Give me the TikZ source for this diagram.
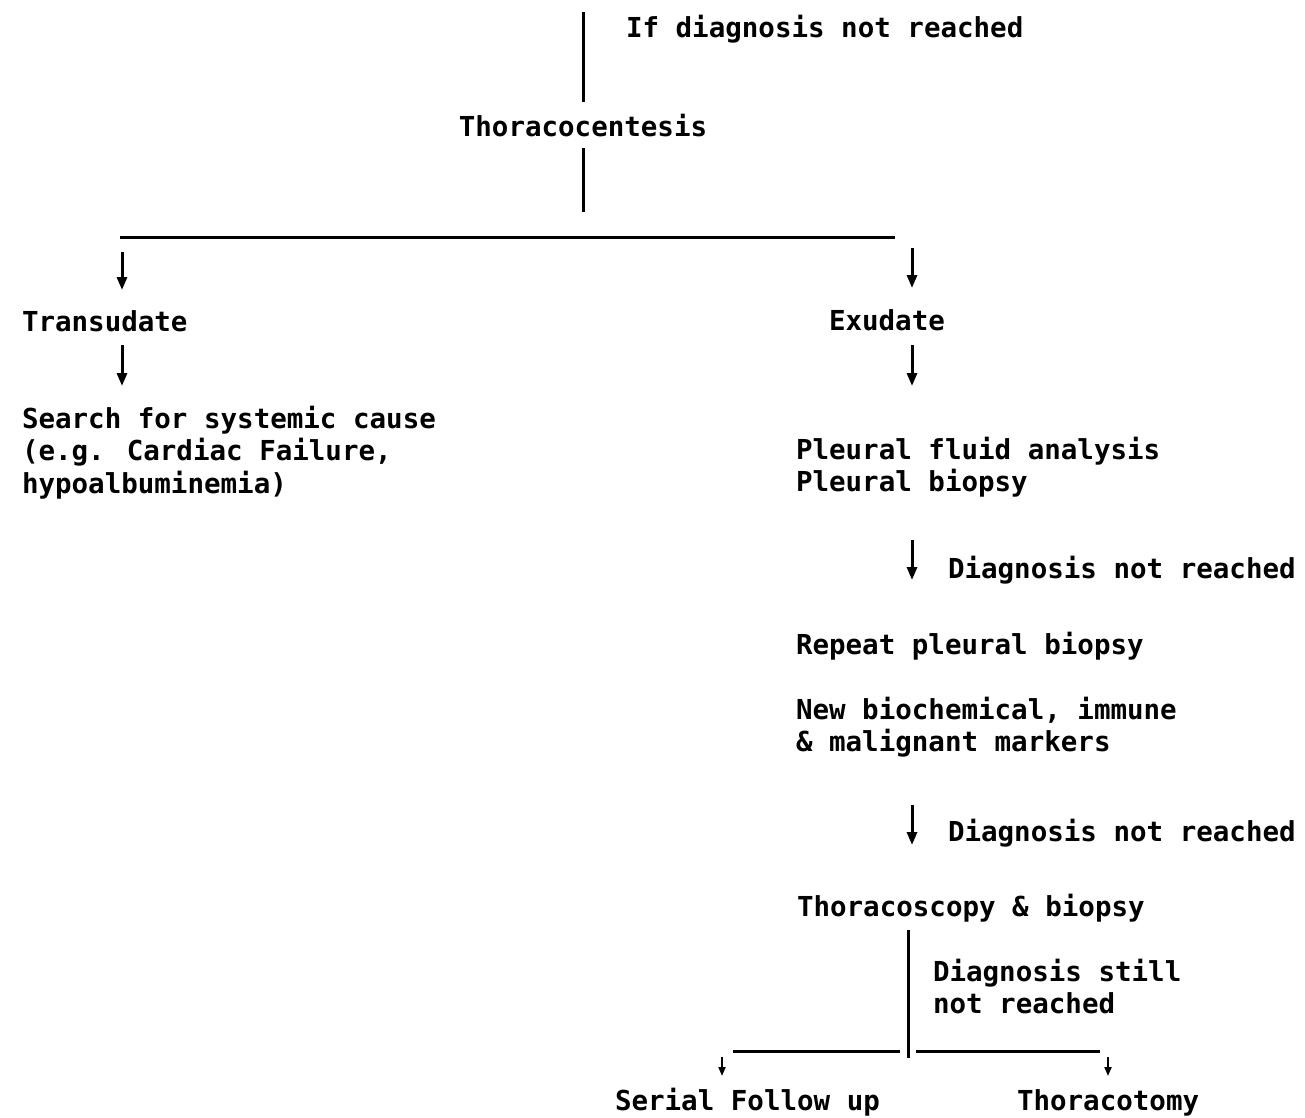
\documentclass[tikz,border=0pt]{standalone}
\usepackage{fontspec}
\newfontfamily\tw{DejaVu Sans Mono}
\usetikzlibrary{arrows.meta}
\begin{document}
\begin{tikzpicture}[x=1pt,y=-1pt,
  txt/.style={inner sep=0pt,outer sep=0pt,align=left,anchor=base west,
    font=\tw\bfseries\fontsize{27.5}{32.5}\selectfont},
  ln/.style={line width=3pt},
  arr/.style={line width=3pt,-{Triangle[length=13pt,width=10pt]}},
  sarr/.style={line width=2pt,-{Triangle[length=9pt,width=7pt]}}]
\useasboundingbox (0,0) rectangle (1305,1117);
% nodes (base anchor = baseline of the last line)
\node[txt,anchor=base] (thor) at (583,136) {Thoracocentesis};
\node[txt] (ifnot) at (626,37) {If diagnosis not reached};
\node[txt] (tra) at (22,331) {Transudate};
\node[txt] (exu) at (829,330) {Exudate};
\node[txt] (search) at (22,493) {Search for systemic cause\\(e.g. Cardiac Failure,\\hypoalbuminemia)};
\node[txt] (pfa) at (796,491.5) {Pleural fluid analysis\\Pleural biopsy};
\node[txt] (dnr1) at (948,578) {Diagnosis not reached};
\node[txt] (rep) at (796,654) {Repeat pleural biopsy};
\node[txt] (newm) at (796,751.5) {New biochemical, immune\\\& malignant markers};
\node[txt] (dnr2) at (948,841) {Diagnosis not reached};
\node[txt] (tsc) at (797,916) {Thoracoscopy \& biopsy};
\node[txt] (dsn) at (933,1013.5) {Diagnosis still\\not reached};
\node[txt] (ser) at (615,1110) {Serial Follow up};
\node[txt] (tmy) at (1017,1110) {Thoracotomy};
% coordinates
\coordinate (top) at (583,12);
\coordinate (vend) at (583,212);
\coordinate (hl) at (120,237);
\coordinate (hr) at (895,237);
\coordinate (al) at (122,252);
\coordinate (ar) at (912,248);
\coordinate (a2l) at (122,345);
\coordinate (a2r) at (912,345);
\coordinate (a3) at (912,540);
\coordinate (a3e) at (912,580);
\coordinate (a4) at (912,805);
\coordinate (a4e) at (912,845);
\coordinate (vt) at (908,930);
\coordinate (vb) at (908,1058);
\coordinate (bl1) at (900,1051);
\coordinate (bl2) at (733,1051);
\coordinate (br1) at (916,1051);
\coordinate (br2) at (1100,1051);
\coordinate (sa) at (722,1057);
\coordinate (ta) at (1108,1057);
% connectors
\draw[ln] (top) -- ([yshift=12pt]thor.north -| top);
\draw[ln] ([yshift=-12pt]thor.south -| top) -- (vend);
\draw[ln] (hl) -- (hr);
\draw[arr] (al) -- (al |- 0,290);
\draw[arr] (ar) -- (ar |- 0,288);
\draw[arr] (a2l) -- (a2l |- 0,386);
\draw[arr] (a2r) -- (a2r |- 0,386);
\draw[arr] (a3) -- (a3e);
\draw[arr] (a4) -- (a4e);
\draw[ln] (vt) -- (vb);
\draw[ln] (bl1) -- (bl2);
\draw[ln] (br1) -- (br2);
\draw[sarr] (sa) -- (sa |- 0,1076);
\draw[sarr] (ta) -- (ta |- 0,1076);
\end{tikzpicture}
\end{document}
